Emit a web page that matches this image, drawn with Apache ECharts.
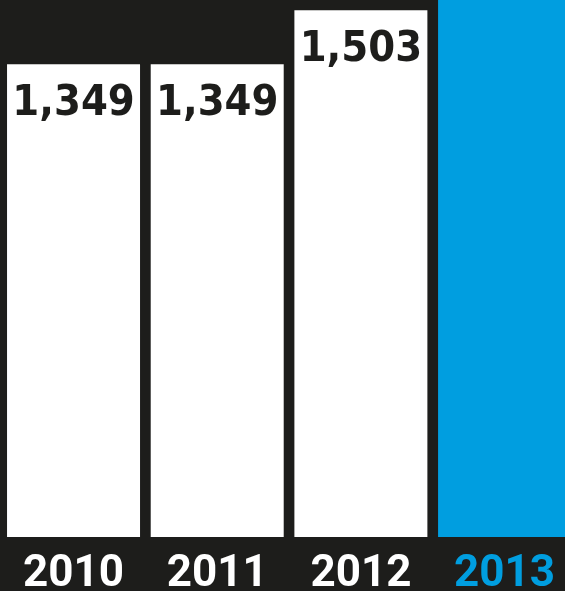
<!DOCTYPE html>
<html>
<head>
<meta charset="utf-8">
<script src="https://cdn.jsdelivr.net/npm/echarts@6/dist/echarts.min.js"></script>
<style>
  html, body { margin: 0; padding: 0; background: #1d1d1b; overflow: hidden; }
  #frame { width: 565px; height: 591px; overflow: hidden; position: relative; }
  /* the last bar is cropped by the right edge of the frame */
  #chart { width: 577px; height: 591px; position: absolute; left: 0; top: 0; }
</style>
</head>
<body>
<div id="frame"><div id="chart"></div></div>
<script>
// Yearly totals; the current year is highlighted in blue and runs off the top.
const years = ['2010', '2011', '2012', '2013'];
const totals = [1349, 1349, 1503, 1650];
const highlightYear = '2013';

const DARK = '#1d1d1b';
const BLUE = '#009ee0';
const WHITE = '#ffffff';

const barData = years.map((y, i) => {
  const hot = y === highlightYear;
  return {
    value: totals[i],
    itemStyle: { color: hot ? BLUE : WHITE },
    label: { show: !hot }
  };
});

const chart = echarts.init(document.getElementById('chart'), null, { renderer: 'canvas' });
chart.setOption({
  backgroundColor: DARK,
  animation: false,
  grid: {
    left: 1.7, top: 0, right: 0.6, height: 537,
    containLabel: false,
    outerBoundsMode: 'none'
  },
  xAxis: {
    type: 'category',
    data: years,
    axisLine: { show: false },
    axisTick: { show: false },
    axisLabel: {
      margin: 16,
      fontFamily: 'Roboto',
      fontWeight: 'bold',
      fontSize: 44,
      color: (value) => value === highlightYear ? BLUE : WHITE
    }
  },
  yAxis: {
    type: 'value',
    min: 0,
    max: 1532,
    show: false,
    splitLine: { show: false }
  },
  series: [{
    type: 'bar',
    data: barData,
    barWidth: 133,
    clip: true,
    label: {
      position: 'insideTop',
      distance: 18,
      fontFamily: 'DejaVu Sans Condensed',
      fontWeight: 'bold',
      fontSize: 43,
      color: DARK,
      formatter: (p) => p.value.toLocaleString('en-US')
    }
  }]
});
</script>
</body>
</html>
